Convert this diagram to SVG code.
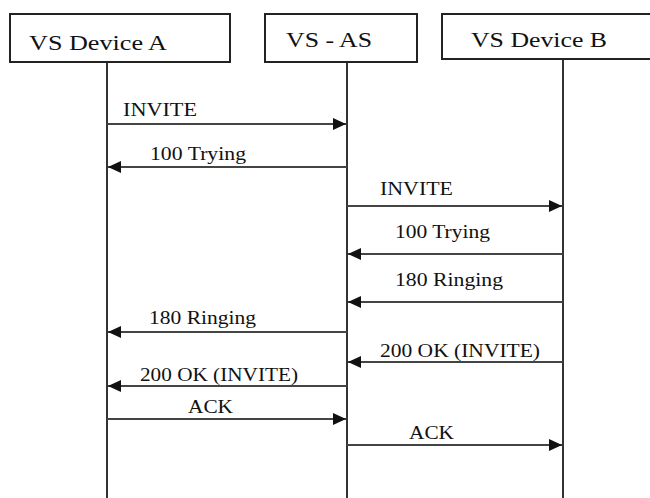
<svg xmlns="http://www.w3.org/2000/svg" width="650" height="498" viewBox="0 0 650 498">
<defs>
<marker id="ah" markerUnits="userSpaceOnUse" markerWidth="14" markerHeight="14" viewBox="0 0 14 14" refX="13" refY="7" orient="auto">
<path d="M0,1 L13,7 L0,13 Z" fill="#111"/>
</marker>
<style>
.box{fill:#fff;stroke:#222;stroke-width:2}
.life{stroke:#333;stroke-width:2;fill:none}
.msg{stroke:#444;stroke-width:2;fill:none;marker-end:url(#ah)}
.hl{font-family:'Liberation Serif','Times New Roman',serif;font-size:22px;fill:#111}
.ml{font-family:'Liberation Serif','Times New Roman',serif;font-size:19px;fill:#111}
</style>
</defs>
<rect width="650" height="498" fill="#fff"/>
<g id="lifelines">
<line class="life" x1="107" y1="62" x2="107" y2="498"/>
<line class="life" x1="347" y1="62" x2="347" y2="498"/>
<line class="life" x1="563" y1="59" x2="563" y2="498"/>
</g>
<g id="deviceA">
<rect class="box" x="10" y="14" width="220" height="48"/>
<text class="hl" x="29" y="50" textLength="138" lengthAdjust="spacingAndGlyphs">VS Device A</text>
</g>
<g id="vsas">
<rect class="box" x="265" y="14" width="152" height="48"/>
<text class="hl" x="286" y="47" textLength="86" lengthAdjust="spacingAndGlyphs">VS - AS</text>
</g>
<g id="deviceB">
<rect class="box" x="442" y="14" width="212" height="45"/>
<text class="hl" x="471" y="47" textLength="136" lengthAdjust="spacingAndGlyphs">VS Device B</text>
</g>
<g id="connectors">
<line class="msg" x1="107" y1="124" x2="346" y2="124"/>
<line class="msg" x1="347" y1="167" x2="108" y2="167"/>
<line class="msg" x1="347" y1="206" x2="562" y2="206"/>
<line class="msg" x1="563" y1="254" x2="348" y2="254"/>
<line class="msg" x1="563" y1="302" x2="348" y2="302"/>
<line class="msg" x1="347" y1="332" x2="108" y2="332"/>
<line class="msg" x1="563" y1="362" x2="348" y2="362"/>
<line class="msg" x1="347" y1="386" x2="108" y2="386"/>
<line class="msg" x1="107" y1="419" x2="346" y2="419"/>
<line class="msg" x1="347" y1="445" x2="562" y2="445"/>
</g>
<g id="labels">
<text class="ml" x="123" y="116" textLength="74" lengthAdjust="spacingAndGlyphs">INVITE</text>
<text class="ml" x="150" y="160" textLength="96" lengthAdjust="spacingAndGlyphs">100 Trying</text>
<text class="ml" x="380" y="195" textLength="73" lengthAdjust="spacingAndGlyphs">INVITE</text>
<text class="ml" x="395" y="238" textLength="95" lengthAdjust="spacingAndGlyphs">100 Trying</text>
<text class="ml" x="395" y="286" textLength="108" lengthAdjust="spacingAndGlyphs">180 Ringing</text>
<text class="ml" x="149" y="324" textLength="107" lengthAdjust="spacingAndGlyphs">180 Ringing</text>
<text class="ml" x="380" y="357" textLength="160" lengthAdjust="spacingAndGlyphs">200 OK (INVITE)</text>
<text class="ml" x="140" y="381" textLength="158" lengthAdjust="spacingAndGlyphs">200 OK (INVITE)</text>
<text class="ml" x="188" y="413" textLength="45" lengthAdjust="spacingAndGlyphs">ACK</text>
<text class="ml" x="409" y="439" textLength="45" lengthAdjust="spacingAndGlyphs">ACK</text>
</g>
</svg>
